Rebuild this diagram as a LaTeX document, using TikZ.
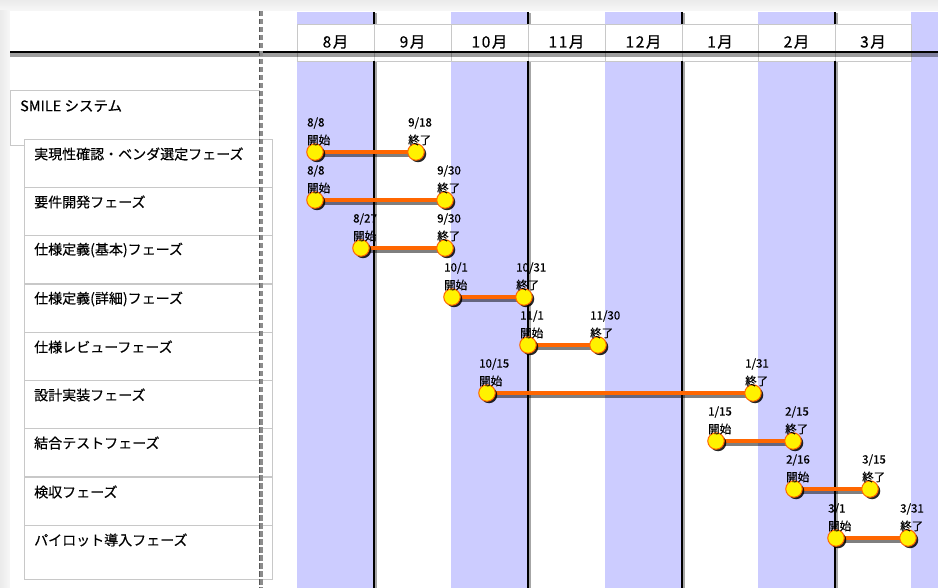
\documentclass[tikz,border=0pt]{standalone}
\usepackage{fontspec}
\setmainfont{Noto Sans CJK JP}[FakeBold=0.4]
\usetikzlibrary{shadows}

\definecolor{lav}{HTML}{CCCCFF}
\definecolor{barorange}{HTML}{FF6600}
\definecolor{cellline}{HTML}{C8C8C8}
\definecolor{dashgray}{HTML}{8C8C8C}

\pgfdeclarelayer{back}
\pgfdeclarelayer{mid}
\pgfsetlayers{back,mid,main}

\tikzset{
  milestone/.style={circle, minimum size=16.5pt, inner sep=0pt, fill=yellow,
    draw=barorange, line width=1pt,
    drop shadow={shadow xshift=2pt, shadow yshift=-2pt, fill=black, opacity=.85}},
  datelbl/.style={anchor=west, inner sep=0pt, font=\fontsize{11.5}{13}\selectfont},
  barline/.style={draw=barorange, line width=3.2pt},
  barshade/.style={draw=black, opacity=.5, line width=4.5pt},
  rowbox/.style={draw=cellline, fill=white, line width=.8pt},
  rowtext/.style={anchor=west, inner sep=0pt, font=\fontsize{14}{16}\selectfont},
  monthtext/.style={inner sep=0pt, font=\fontsize{15.5}{17}\selectfont\addfontfeature{LetterSpace=10}},
  divider/.style={draw=black, line width=2pt},
  dividershade/.style={draw=black, opacity=.35, line width=1.6pt},
}

% one phase: name, y, start x, end x, start date, end date
\newcommand\phasebar[6]{%
  \node[milestone] (#1s) at (#3,#2) {};
  \node[milestone] (#1e) at (#4,#2) {};
  \node[datelbl] (#1sd) at (#3-8,#2-29) {#5};
  \node[datelbl] (#1sk) at (#3-8,#2-12) {開始};
  \node[datelbl] (#1ed) at (#4-8,#2-29) {#6};
  \node[datelbl] (#1ek) at (#4-8,#2-12) {終了};
  \begin{pgfonlayer}{mid}
    \draw[barshade] ([shift={(2,3)}]#1s.center) -- ([shift={(2,3)}]#1e.center);
    \draw[barline] (#1s.center) -- (#1e.center);
  \end{pgfonlayer}
}

\begin{document}
\begin{tikzpicture}[x=1pt,y=-1pt]
\useasboundingbox (0,0) rectangle (938,588);

\begin{pgfonlayer}{back}
  % page frame with soft top and left edges
  \fill[gray!10] (0,0) rectangle (938,588);
  \shade[top color=gray!16, bottom color=gray!6] (0,0) rectangle (938,11);
  \shade[left color=gray!16, right color=gray!6] (0,11) rectangle (10,588);
  \fill[white] (10,11) rectangle (938,588);

  % alternating month columns
  \foreach \a/\b in {297/374, 451/528, 605/682, 758/835, 911/938}
    \fill[lav] (\a,12) rectangle (\b,588);

  % month header cells
  \foreach \a/\b in {297/374, 374/451, 451/528, 528/605, 605/682, 682/758, 758/835, 835/911}
    \draw[rowbox] (\a,24.5) rectangle (\b,61);

  % quarter dividers
  \foreach \x in {374, 528, 682, 835} {
    \draw[dividershade] (\x+2,13) -- (\x+2,24);
    \draw[dividershade] (\x+2,62) -- (\x+2,588);
    \draw[divider] (\x,12) -- (\x,24);
    \draw[divider] (\x,61) -- (\x,588);
  }

  % header rule
  \fill[black, opacity=.38] (10,53) rectangle (938,57.5);
  \draw[black, line width=2.2pt] (10,52.2) -- (938,52.2);

  % task list
  \draw[rowbox] (10,90) rectangle (259,145);
  \foreach \t in {139, 187, 235, 284, 332, 380, 428, 477}
    \draw[rowbox] (24,\t) rectangle (272,\t+48);
  \draw[rowbox] (24,525) rectangle (272,579);

  % dashed splitter
  \draw[dashgray, line width=4pt, dash pattern=on 5.5pt off 2.5pt] (260.5,11) -- (260.5,588);
  \draw[black!65, line width=1.6pt, dash pattern=on 5.5pt off 2.5pt] (259.3,11) -- (259.3,588);
\end{pgfonlayer}

% month labels
\node[monthtext] (m8)  at (335.5,42) {8月};
\node[monthtext] (m9)  at (412.5,42) {9月};
\node[monthtext] (m10) at (489.5,42) {10月};
\node[monthtext] (m11) at (566.5,42) {11月};
\node[monthtext] (m12) at (643.5,42) {12月};
\node[monthtext] (m1)  at (720,42)   {1月};
\node[monthtext] (m2)  at (796.5,42) {2月};
\node[monthtext] (m3)  at (873,42)   {3月};

% task names
\node[rowtext, font=\fontsize{14.5}{16}\selectfont] (sys) at (20,106) {SMILE システム};
\node[rowtext] (t1) at (34,154) {実現性確認・ベンダ選定フェーズ};
\node[rowtext] (t2) at (34,202) {要件開発フェーズ};
\node[rowtext] (t3) at (34,250) {仕様定義(基本)フェーズ};
\node[rowtext] (t4) at (34,299) {仕様定義(詳細)フェーズ};
\node[rowtext] (t5) at (34,347) {仕様レビューフェーズ};
\node[rowtext] (t6) at (34,395) {設計実装フェーズ};
\node[rowtext] (t7) at (34,443) {結合テストフェーズ};
\node[rowtext] (t8) at (34,492) {検収フェーズ};
\node[rowtext] (t9) at (34,540) {パイロット導入フェーズ};

% schedule bars
\phasebar{p1}{152}{315}{416}{8/8}{9/18}
\phasebar{p2}{200}{315}{445}{8/8}{9/30}
\phasebar{p3}{248}{361}{445}{8/27}{9/30}
\phasebar{p4}{297}{452}{524}{10/1}{10/31}
\phasebar{p5}{345}{528}{598}{11/1}{11/30}
\phasebar{p6}{393}{487}{753}{10/15}{1/31}
\phasebar{p7}{441}{716}{793}{1/15}{2/15}
\phasebar{p8}{489}{794}{870}{2/16}{3/15}
\phasebar{p9}{538}{836}{908}{3/1}{3/31}
\end{tikzpicture}
\end{document}
